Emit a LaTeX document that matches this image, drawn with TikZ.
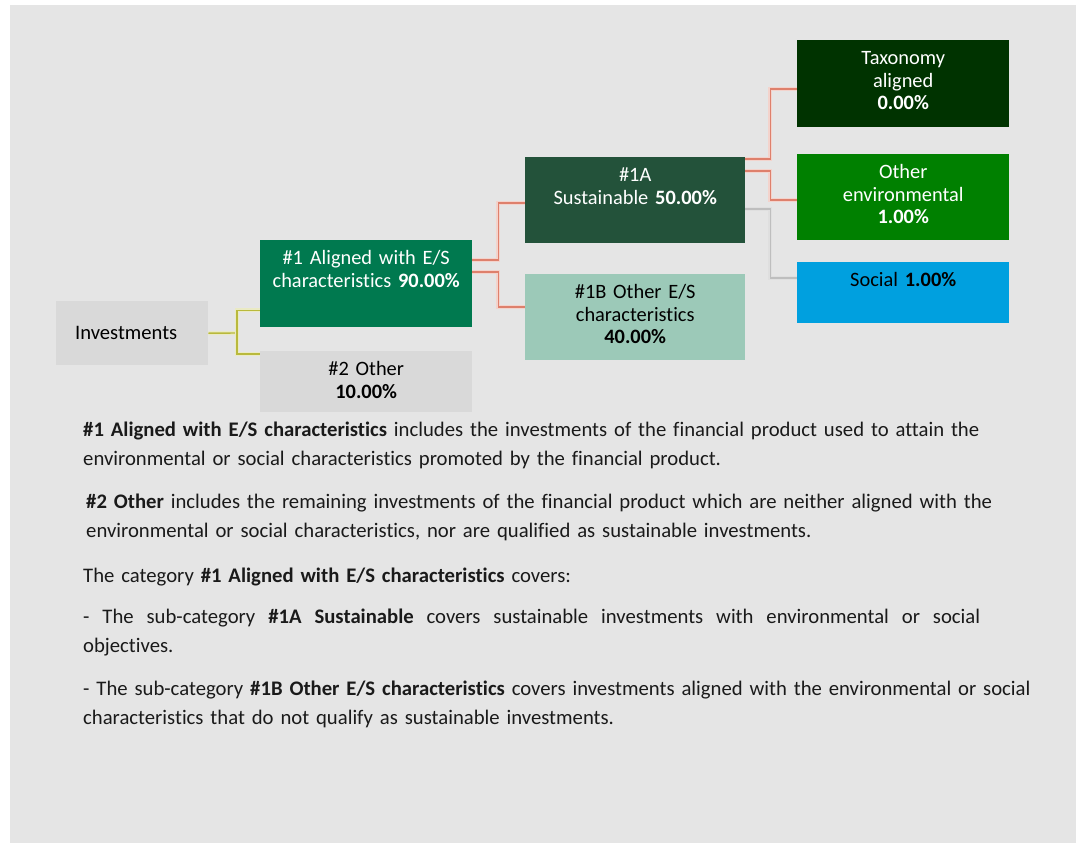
\documentclass[tikz,border=0pt]{standalone}
\usepackage{fontspec}
\setmainfont{Carlito}[Ligatures=NoCommon]
\usetikzlibrary{positioning}
\definecolor{bggrey}{RGB}{229,229,229}
\definecolor{boxgrey}{RGB}{217,217,217}
\definecolor{alignedgreen}{RGB}{0,121,79}
\definecolor{sustgreen}{RGB}{35,82,58}
\definecolor{othergreen}{RGB}{156,201,184}
\definecolor{taxgreen}{RGB}{0,51,0}
\definecolor{envgreen}{RGB}{0,128,0}
\definecolor{socialblue}{RGB}{0,160,223}
\definecolor{linksalmon}{RGB}{222,128,108}
\definecolor{linkgrey}{RGB}{190,190,190}
\definecolor{linkolive}{RGB}{185,185,60}
\definecolor{bodytext}{RGB}{26,26,26}

\begin{document}
\begin{tikzpicture}[x=1pt,y=-1pt,
    catbox/.style={anchor=north west,inner xsep=4pt,inner ysep=0pt,align=center,
      text height=24.5pt,font=\fontsize{20.4}{22.5}\selectfont},
    para/.style={anchor=base west,inner sep=0pt,text width=1000pt,align=left,
      font=\fontsize{20.7}{29.5}\selectfont,text=bodytext},
    link/.style={line width=1.8pt,draw=linksalmon,preaction={draw=linksalmon!35,line width=4pt}},
    greylink/.style={line width=1.8pt,draw=linkgrey,preaction={draw=linkgrey!50,line width=4pt}},
    stem/.style={line width=1.4pt,draw=linkolive,preaction={draw=linkolive!30,line width=4pt}}]
    \fill[white] (0,0) rectangle (1079,843);
    \useasboundingbox (0,0) rectangle (1079,843);
    \fill[bggrey] (10,5) rectangle (1076,843);
    % category boxes
    \node[fill=boxgrey,anchor=north west,inner xsep=19pt,minimum width=152pt,minimum height=64pt,
      text width=114pt,align=left,font=\fontsize{20.6}{22.5}\selectfont] (inv) at (56,301) {Investments};
    \node[catbox,fill=alignedgreen,text=white,text width=204pt,text depth=62.5pt] (al) at (260,240)
      {\#1 Aligned with E/S\\ characteristics \textbf{90.00\%}};
    \node[catbox,fill=boxgrey,text width=204pt,text depth=36.5pt] (oth) at (260,351)
      {\#2 Other\\ \textbf{10.00\%}};
    \node[catbox,fill=sustgreen,text=white,text width=212pt,text depth=61.5pt] (sust) at (525,157)
      {\#1A\\ Sustainable \textbf{50.00\%}};
    \node[catbox,fill=othergreen,text width=212pt,text depth=61.5pt] (ores) at (525,274)
      {\#1B Other E/S\\ characteristics\\ \textbf{40.00\%}};
    \node[catbox,fill=taxgreen,text=white,text width=204pt,text depth=62.5pt] (tax) at (797,40)
      {Taxonomy\\ aligned\\ \textbf{0.00\%}};
    \node[catbox,fill=envgreen,text=white,text width=204pt,text depth=61.5pt] (env) at (797,154)
      {Other\\ environmental\\ \textbf{1.00\%}};
    \node[catbox,fill=socialblue,text width=204pt,text depth=36.5pt] (soc) at (797,262)
      {Social \textbf{1.00\%}};
    % connectors
    \coordinate (fork) at (237,333);
    \draw[stem] (inv.east) -- (fork);
    \draw[stem] (fork) |- ([yshift=17pt]al.south west);
    \draw[stem] (fork) |- ([yshift=-3pt]oth.north west);
    \draw[link] ([yshift=-20pt]al.north east) -- ++(26,0) |- ([yshift=-46pt]sust.north west);
    \draw[link] ([yshift=-32pt]al.north east) -- ++(26,0) |- ([yshift=-33pt]ores.north west);
    \draw[link] ([yshift=-2pt]sust.north east) -- ++(25,0) |- ([yshift=-49pt]tax.north west);
    \draw[link] ([yshift=-14pt]sust.north east) -- ++(25,0) |- ([yshift=-46pt]env.north west);
    \draw[greylink] ([yshift=-52pt]sust.north east) -- ++(25,0) |- ([yshift=-16pt]soc.north west);
    % explanations
    \node[para] (txtal) at (83,436) {\textbf{\#1 Aligned with E/S characteristics} includes the investments of the financial product used to attain the\\
      environmental or social characteristics promoted by the financial product.};
    \node[para] (txtoth) at (86,508) {\textbf{\#2 Other} includes the remaining investments of the financial product which are neither aligned with the\\
      environmental or social characteristics, nor are qualified as sustainable investments.};
    \node[para] (txtcat) at (83,582) {The category \textbf{\#1 Aligned with E/S characteristics} covers:};
    \node[para,text width=897pt,align=justify] (txtsust) at (83,623) {- The sub-category \textbf{\#1A Sustainable} covers sustainable investments with environmental or social\linebreak
      objectives.};
    \node[para] (txtores) at (83,695) {- The sub-category \textbf{\#1B Other E/S characteristics} covers investments aligned with the environmental or social\\
      characteristics that do not qualify as sustainable investments.};
\end{tikzpicture}
\end{document}
